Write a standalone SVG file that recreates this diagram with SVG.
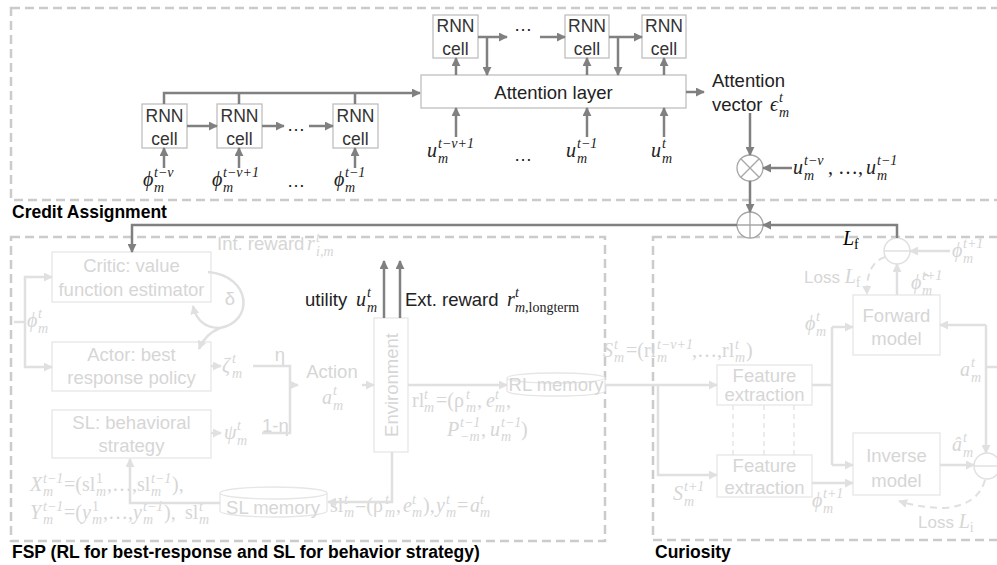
<svg xmlns="http://www.w3.org/2000/svg" width="997" height="565" viewBox="0 0 997 565">
<defs>
<style>
.grp{fill:none;stroke:#cbcbcb;stroke-width:2.5;stroke-dasharray:9 5}
.box{fill:#fff;stroke:#bfbfbf;stroke-width:1.3}
.fbox{fill:#fff;stroke:#e6e6e6;stroke-width:1.3}
.t{font-family:"Liberation Sans",Arial,sans-serif;font-size:18.5px;fill:#222}
.rnn{font-family:"Liberation Sans",Arial,sans-serif;font-size:17.5px;fill:#333;text-anchor:middle}
.ft{font-family:"Liberation Sans",Arial,sans-serif;font-size:18.5px;fill:#d6d6d6}
.c{text-anchor:middle}
.title{font-family:"Liberation Sans",Arial,sans-serif;font-size:17.5px;font-weight:bold;fill:#000}
.mi{font-family:"Liberation Serif","DejaVu Serif",serif;font-style:italic;font-size:20px;fill:#222}
.fmi{font-family:"Liberation Serif","DejaVu Serif",serif;font-style:italic;font-size:20px;fill:#d6d6d6}
.s{font-size:14px}
.u{font-style:normal}
.dk{fill:none;stroke:#808080;stroke-width:2.5}
.lt{fill:none;stroke:#e0e0e0;stroke-width:2.5}
.ltd{fill:none;stroke:#e0e0e0;stroke-width:2;stroke-dasharray:7 5}
.ltt{fill:none;stroke:#e0e0e0;stroke-width:1.2;stroke-dasharray:5 4}
.op{fill:#fff;stroke:#a6a6a6;stroke-width:1.3}
.fop{fill:#fff;stroke:#e0e0e0;stroke-width:1.5}
</style>
<marker id="ad" viewBox="0 0 10 10" refX="9" refY="5" markerWidth="9" markerHeight="9" markerUnits="userSpaceOnUse" orient="auto"><path d="M0,0 L10,5 L0,10 z" fill="#808080"/></marker>
<marker id="la" viewBox="0 0 10 10" refX="9" refY="5" markerWidth="9" markerHeight="9" markerUnits="userSpaceOnUse" orient="auto"><path d="M0,0 L10,5 L0,10 z" fill="#e0e0e0"/></marker>
</defs>
<rect width="997" height="565" fill="#fff"/>

<g id="groups">
<rect class="grp" x="11" y="8" width="995" height="192"/>
<rect class="grp" x="11" y="237" width="594" height="304"/>
<rect class="grp" x="653" y="237" width="350" height="303"/>
<text class="title" x="12" y="218">Credit Assignment</text>
<text class="title" x="12" y="558">FSP (RL for best-response and SL for behavior strategy)</text>
<text class="title" x="655" y="558">Curiosity</text>
</g>

<g id="rnn-bottom-1"><rect class="box" x="142" y="104" width="45" height="44"/><text class="rnn" x="164.5" y="122">RNN</text><text class="rnn" x="164.5" y="145">cell</text></g>
<g id="rnn-bottom-2"><rect class="box" x="217" y="104" width="45" height="44"/><text class="rnn" x="239.5" y="122">RNN</text><text class="rnn" x="239.5" y="145">cell</text></g>
<g id="rnn-bottom-3"><rect class="box" x="333" y="104" width="45" height="44"/><text class="rnn" x="355.5" y="122">RNN</text><text class="rnn" x="355.5" y="145">cell</text></g>
<g id="rnn-top-1"><rect class="box" x="433" y="15" width="45" height="43"/><text class="rnn" x="455.5" y="32">RNN</text><text class="rnn" x="455.5" y="55">cell</text></g>
<g id="rnn-top-2"><rect class="box" x="565" y="15" width="44" height="43"/><text class="rnn" x="587" y="32">RNN</text><text class="rnn" x="587" y="55">cell</text></g>
<g id="rnn-top-3"><rect class="box" x="642" y="15" width="44" height="43"/><text class="rnn" x="664" y="32">RNN</text><text class="rnn" x="664" y="55">cell</text></g>
<g id="attention-layer"><rect class="box" x="421" y="75" width="265" height="33"/><text class="t c" x="553.5" y="99">Attention layer</text></g>

<g id="labels-credit">
<text class="t c" x="296" y="131">…</text>
<text class="t c" x="523" y="31">…</text>
<text class="mi" x="143" y="186">ϕ<tspan class="s" x="154" y="177">t−ν</tspan><tspan class="s" x="154" y="192">m</tspan></text>
<text class="mi" x="212" y="186">ϕ<tspan class="s" x="223" y="177">t−ν+1</tspan><tspan class="s" x="223" y="192">m</tspan></text>
<text class="t c" x="296" y="187">…</text>
<text class="mi" x="334" y="186">ϕ<tspan class="s" x="345" y="177">t−1</tspan><tspan class="s" x="345" y="192">m</tspan></text>
<text class="mi" x="427" y="157">u<tspan class="s" x="438" y="148">t−ν+1</tspan><tspan class="s" x="438" y="163">m</tspan></text>
<text class="t c" x="523" y="161">…</text>
<text class="mi" x="566" y="157">u<tspan class="s" x="577" y="148">t−1</tspan><tspan class="s" x="577" y="163">m</tspan></text>
<text class="mi" x="651" y="157">u<tspan class="s" x="662" y="148">t</tspan><tspan class="s" x="662" y="163">m</tspan></text>
<text class="t" x="712" y="87">Attention</text>
<text class="t" x="712" y="111">vector <tspan class="mi" x="770">ϵ</tspan><tspan class="mi s" x="779" y="102">t</tspan><tspan class="mi s" x="779" y="117">m</tspan></text>
<text class="mi" x="793" y="174">u<tspan class="s" x="804" y="165">t−ν</tspan><tspan class="s" x="804" y="180">m</tspan><tspan class="u" x="828" y="174">, …,</tspan><tspan x="866" y="174">u</tspan><tspan class="s" x="877" y="165">t−1</tspan><tspan class="s" x="877" y="180">m</tspan></text>
<text class="mi" x="843" y="245" style="fill:#000">L<tspan class="s u" x="854" y="249">f</tspan></text>
<text class="t" x="305" y="306">utility <tspan class="mi" x="356">u</tspan><tspan class="mi s" x="367" y="297">t</tspan><tspan class="mi s" x="367" y="312">m</tspan></text>
<text class="t" x="405" y="306">Ext. reward <tspan class="mi" x="507">r</tspan><tspan class="mi s" x="515" y="297">t</tspan><tspan class="mi s" x="515" y="312">m</tspan><tspan class="mi s u" x="525" y="312">,longterm</tspan></text>
</g>

<g id="otimes"><circle class="op" cx="750" cy="168" r="13"/><path d="M740.8,158.8L759.2,177.2M759.2,158.8L740.8,177.2" stroke="#a6a6a6" stroke-width="1.3"/></g>
<g id="oplus"><circle class="op" cx="750" cy="225" r="13"/><path d="M737,225H763M750,212V238" stroke="#a6a6a6" stroke-width="1.3"/></g>

<g id="critic"><rect class="fbox" x="52" y="252" width="159" height="50"/><text class="ft c" x="131.5" y="272">Critic: value</text><text class="ft c" x="131.5" y="296">function estimator</text></g>
<g id="actor"><rect class="fbox" x="52" y="342" width="159" height="49"/><text class="ft c" x="131.5" y="361">Actor: best</text><text class="ft c" x="131.5" y="384">response policy</text></g>
<g id="sl-strategy"><rect class="fbox" x="52" y="410" width="159" height="48"/><text class="ft c" x="131.5" y="429">SL: behavioral</text><text class="ft c" x="131.5" y="452">strategy</text></g>
<g id="environment"><rect class="fbox" x="374" y="318" width="34" height="134"/><text class="ft c" transform="translate(398,385) rotate(-90)">Environment</text></g>
<g id="rl-memory"><path class="fbox" d="M507,378V391A49,5 0 0 0 605,391V378A49,5 0 0 0 507,378A49,5 0 0 0 605,378"/><text class="ft c" x="556" y="391">RL memory</text></g>
<g id="sl-memory"><path class="fbox" d="M220,493V511A53.5,6 0 0 0 327,511V493A53.5,6 0 0 0 220,493A53.5,6 0 0 0 327,493"/><text class="ft c" x="273" y="514">SL memory</text></g>
<g id="feature-1"><rect class="fbox" x="717" y="365" width="95" height="40"/><text class="ft c" x="764.5" y="382">Feature</text><text class="ft c" x="764.5" y="401">extraction</text></g>
<g id="feature-2"><rect class="fbox" x="717" y="455" width="95" height="42"/><text class="ft c" x="764.5" y="472">Feature</text><text class="ft c" x="764.5" y="494">extraction</text></g>
<g id="forward-model"><rect class="fbox" x="853" y="295" width="87" height="60"/><text class="ft c" x="896.5" y="322">Forward</text><text class="ft c" x="896.5" y="345">model</text></g>
<g id="inverse-model"><rect class="fbox" x="853" y="433" width="87" height="62"/><text class="ft c" x="896.5" y="462">Inverse</text><text class="ft c" x="896.5" y="487">model</text></g>
<g id="minus-top"><circle class="fop" cx="897" cy="251" r="13"/><path d="M884,251H910" stroke="#e0e0e0" stroke-width="1.5"/></g>
<g id="minus-bottom"><circle class="fop" cx="987" cy="466" r="13"/><path d="M974,466H1000" stroke="#e0e0e0" stroke-width="1.5"/></g>

<g id="labels-faded">
<text class="ft" x="217" y="250">Int. reward <tspan class="fmi" x="307">r</tspan><tspan class="fmi s" x="316" y="242">t</tspan><tspan class="fmi s" x="316" y="256">i,m</tspan></text>
<text class="ft c" x="230" y="305">δ</text>
<text class="fmi" x="27" y="327">ϕ<tspan class="s" x="38" y="318">t</tspan><tspan class="s" x="38" y="333">m</tspan></text>
<text class="fmi" x="222" y="372">ζ<tspan class="s" x="232" y="363">t</tspan><tspan class="s" x="232" y="378">m</tspan></text>
<text class="ft c" x="280" y="361">η</text>
<text class="fmi" x="224" y="439">ψ<tspan class="s" x="237" y="430">t</tspan><tspan class="s" x="237" y="445">m</tspan></text>
<text class="ft" x="262" y="432">1-η</text>
<text class="ft c" x="332" y="378">Action</text>
<text class="fmi" x="322" y="404">a<tspan class="s" x="333" y="395">t</tspan><tspan class="s" x="333" y="410">m</tspan></text>
<text class="fmi" x="412" y="407"><tspan class="u">rl</tspan><tspan class="s" x="424" y="399">t</tspan><tspan class="s" x="424" y="412">m</tspan><tspan class="u" x="436" y="407">=(ρ</tspan><tspan class="s" x="466" y="399">t</tspan><tspan class="s" x="466" y="412">m</tspan><tspan class="u" x="477" y="407">,</tspan><tspan x="486" y="407">e</tspan><tspan class="s" x="495" y="399">t</tspan><tspan class="s" x="495" y="412">m</tspan><tspan class="u" x="506" y="407">,</tspan></text>
<text class="fmi" x="447" y="436">P<tspan class="s" x="460" y="427">t−1</tspan><tspan class="s" x="460" y="441">−m</tspan><tspan class="u" x="481" y="436">,</tspan><tspan x="490" y="436">u</tspan><tspan class="s" x="501" y="427">t−1</tspan><tspan class="s" x="501" y="441">m</tspan><tspan class="u" x="521" y="436">)</tspan></text>
<text class="fmi" x="330" y="512"><tspan class="u">sl</tspan><tspan class="s" x="344" y="504">t</tspan><tspan class="s" x="344" y="517">m</tspan><tspan class="u" x="355" y="512">=(ρ</tspan><tspan class="s" x="385" y="504">t</tspan><tspan class="s" x="385" y="517">m</tspan><tspan class="u" x="396" y="512">,</tspan><tspan x="403" y="512">e</tspan><tspan class="s" x="412" y="504">t</tspan><tspan class="s" x="412" y="517">m</tspan><tspan class="u" x="423" y="512">),</tspan><tspan x="436" y="512">y</tspan><tspan class="s" x="446" y="504">t</tspan><tspan class="s" x="446" y="517">m</tspan><tspan class="u" x="457" y="512">=</tspan><tspan x="470" y="512">a</tspan><tspan class="s" x="480" y="504">t</tspan><tspan class="s" x="480" y="517">m</tspan></text>
<text class="fmi" x="30" y="491">X<tspan class="s" x="43" y="483">t−1</tspan><tspan class="s" x="43" y="496">m</tspan><tspan class="u" x="64" y="491">=(sl</tspan><tspan class="s u" x="96" y="483">1</tspan><tspan class="s" x="96" y="496">m</tspan><tspan class="u" x="107" y="491">,…,</tspan><tspan class="u" x="137" y="491">sl</tspan><tspan class="s" x="151" y="483">t−1</tspan><tspan class="s" x="151" y="496">m</tspan><tspan class="u" x="172" y="491">),</tspan></text>
<text class="fmi" x="30" y="519">Y<tspan class="s" x="43" y="511">t−1</tspan><tspan class="s" x="43" y="524">m</tspan><tspan class="u" x="64" y="519">=(</tspan><tspan x="82" y="519">y</tspan><tspan class="s u" x="92" y="511">1</tspan><tspan class="s" x="92" y="524">m</tspan><tspan class="u" x="103" y="519">,…,</tspan><tspan x="133" y="519">y</tspan><tspan class="s" x="143" y="511">t−1</tspan><tspan class="s" x="143" y="524">m</tspan><tspan class="u" x="164" y="519">),</tspan><tspan class="u" x="185" y="519">sl</tspan><tspan class="s" x="199" y="511">t</tspan><tspan class="s" x="199" y="524">m</tspan></text>
<text class="fmi" x="603" y="357">S<tspan class="s" x="614" y="349">t</tspan><tspan class="s" x="614" y="362">m</tspan><tspan class="u" x="626" y="357">=(rl</tspan><tspan class="s" x="657" y="349">t−ν+1</tspan><tspan class="s" x="657" y="362">m</tspan><tspan class="u" x="692" y="357">,…,</tspan><tspan class="u" x="722" y="357">rl</tspan><tspan class="s" x="735" y="349">t</tspan><tspan class="s" x="735" y="362">m</tspan><tspan class="u" x="746" y="357">)</tspan></text>
<text class="fmi" x="673" y="500">S<tspan class="s" x="684" y="491">t+1</tspan><tspan class="s" x="684" y="506">m</tspan></text>
<text class="fmi" x="805" y="330">ϕ<tspan class="s" x="816" y="321">t</tspan><tspan class="s" x="816" y="336">m</tspan></text>
<text class="fmi" x="812" y="507">ϕ<tspan class="s" x="823" y="498">t+1</tspan><tspan class="s" x="823" y="513">m</tspan></text>
<text class="fmi" x="911" y="289">ϕ̂<tspan class="s" x="922" y="280">t+1</tspan><tspan class="s" x="922" y="295">m</tspan></text>
<text class="fmi" x="952" y="257">ϕ<tspan class="s" x="963" y="248">t+1</tspan><tspan class="s" x="963" y="263">m</tspan></text>
<text class="fmi" x="960" y="376">a<tspan class="s" x="971" y="367">t</tspan><tspan class="s" x="971" y="382">m</tspan></text>
<text class="fmi" x="952" y="451">â<tspan class="s" x="963" y="442">t</tspan><tspan class="s" x="963" y="457">m</tspan></text>
<text class="ft" x="804" y="283" style="font-size:17px">Loss <tspan class="fmi">L</tspan><tspan class="fmi s u" dy="4">f</tspan></text>
<text class="ft" x="918" y="528" style="font-size:17px">Loss <tspan class="fmi">L</tspan><tspan class="fmi s u" dy="4">i</tspan></text>
</g>

<g id="connectors">
<path class="dk" marker-end="url(#ad)" d="M187,126H217"/>
<path class="dk" marker-end="url(#ad)" d="M262,126H284"/>
<path class="dk" marker-end="url(#ad)" d="M309,126H333"/>
<path class="dk" marker-end="url(#ad)" d="M164,104V93H420"/>
<path class="dk" d="M239,104V93M355,104V93"/>
<path class="dk" marker-end="url(#ad)" d="M164,168V148"/>
<path class="dk" marker-end="url(#ad)" d="M239,168V148"/>
<path class="dk" marker-end="url(#ad)" d="M355,168V148"/>
<path class="dk" marker-end="url(#ad)" d="M456,75V58"/>
<path class="dk" marker-end="url(#ad)" d="M587,75V58"/>
<path class="dk" marker-end="url(#ad)" d="M664,75V58"/>
<path class="dk" marker-end="url(#ad)" d="M478,37H507"/>
<path class="dk" marker-end="url(#ad)" d="M540,37H565"/>
<path class="dk" marker-end="url(#ad)" d="M609,37H642"/>
<path class="dk" marker-end="url(#ad)" d="M487,37V75"/>
<path class="dk" marker-end="url(#ad)" d="M618,37V75"/>
<path class="dk" marker-end="url(#ad)" d="M456,137V108"/>
<path class="dk" marker-end="url(#ad)" d="M587,137V108"/>
<path class="dk" marker-end="url(#ad)" d="M664,137V108"/>
<path class="dk" marker-end="url(#ad)" d="M686,92H704"/>
<path class="dk" marker-end="url(#ad)" d="M750,113V155"/>
<path class="dk" marker-end="url(#ad)" d="M792,168H763"/>
<path class="dk" marker-end="url(#ad)" d="M750,181V212"/>
<path class="dk" marker-end="url(#ad)" d="M897,238V225H763"/>
<path class="dk" marker-end="url(#ad)" d="M737,225H132V252"/>
<path class="dk" marker-end="url(#ad)" d="M384,318V261"/>
<path class="dk" marker-end="url(#ad)" d="M400,318V261"/>

<path class="lt" d="M14,322H25"/>
<path class="lt" marker-end="url(#la)" d="M25,322V277H52"/>
<path class="lt" marker-end="url(#la)" d="M25,322V367H52"/>
<path class="lt" d="M208,272C252,276 254,322 220,328"/>
<path class="lt" marker-end="url(#la)" d="M220,328Q198,328 193,306"/>
<path class="lt" marker-end="url(#la)" d="M220,328Q205,334 199,349"/>
<path class="lt" marker-end="url(#la)" d="M211,366H221"/>
<path class="lt" d="M253,366H290V433H262"/>
<path class="lt" marker-end="url(#la)" d="M290,385H298"/>
<path class="lt" marker-end="url(#la)" d="M211,433H221"/>
<path class="lt" marker-end="url(#la)" d="M362,385H374"/>
<path class="lt" marker-end="url(#la)" d="M408,385H507"/>
<path class="lt" marker-end="url(#la)" d="M392,452V502H328"/>
<path class="lt" marker-end="url(#la)" d="M220,503H130V459"/>
<path class="lt" marker-end="url(#la)" d="M605,385H717"/>
<path class="lt" marker-end="url(#la)" d="M658,385V475H717"/>
<path class="lt" d="M812,385H832M832,327V465"/>
<path class="lt" marker-end="url(#la)" d="M832,327H853"/>
<path class="lt" marker-end="url(#la)" d="M832,465H853"/>
<path class="lt" marker-end="url(#la)" d="M812,483H853"/>
<path class="lt" marker-end="url(#la)" d="M897,295V264"/>
<path class="lt" marker-end="url(#la)" d="M950,251H910"/>
<path class="lt" d="M997,367H986"/>
<path class="lt" marker-end="url(#la)" d="M986,325V453"/>
<path class="lt" marker-end="url(#la)" d="M986,325H940"/>
<path class="lt" marker-end="url(#la)" d="M940,465H974"/>
<path class="ltd" marker-end="url(#la)" d="M885,257Q866,263 867,294"/>
<path class="ltd" marker-end="url(#la)" d="M985,480Q978,505 945,508Q920,508 899,501"/>
<path class="ltt" d="M733,405V455M764,405V455M794,405V455"/>
</g>
</svg>
